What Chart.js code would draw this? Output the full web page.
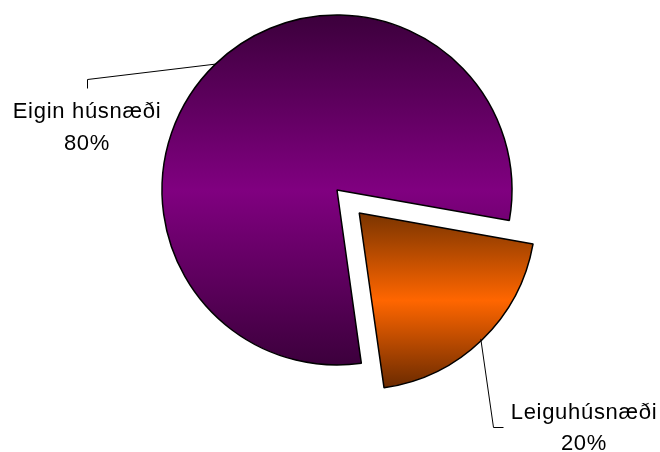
<!DOCTYPE html>
<html>
<head>
<meta charset="utf-8">
<script src="https://cdn.jsdelivr.net/npm/chart.js@4.4.1/dist/chart.umd.min.js"></script>
<style>
  body { margin: 0; background: #fff; }
  #wrap { width: 660px; height: 452px; position: relative; }
</style>
</head>
<body>
<div id="wrap"><canvas id="pieChart"></canvas></div>
<script>
// data
const categories = ['Leiguhúsnæði', 'Eigin húsnæði'];
const shares = [20, 80];
const pctLabels = ['20%', '80%'];

// gradient stops per slice: edge, middle, edge
const sliceColors = [
    ['#7a3400', '#ff6600', '#6a2a00'],
    ['#3c003c', '#800080', '#3c003c']
];

const RADIUS = 175;

function sliceFill(ctx) {
    var chart = ctx.chart;
    var area = chart.chartArea;
    var cols = sliceColors[ctx.dataIndex];
    if (!area) return cols[1];
    var cy = (area.top + area.bottom) / 2;
    var g;
    if (ctx.dataIndex === 0) {
        g = chart.ctx.createLinearGradient(0, cy, 0, cy + RADIUS);
    } else {
        g = chart.ctx.createLinearGradient(0, cy - RADIUS, 0, cy + RADIUS);
    }
    g.addColorStop(0, cols[0]);
    g.addColorStop(0.5, cols[1]);
    g.addColorStop(1, cols[2]);
    return g;
}

// label text position and leader-line elbow for each slice
const labelSpots = [
    { x: 584, y1: 419, y2: 450, elbow: [[493, 427], [503, 427]] },
    { x: 87, y1: 118, y2: 150, elbow: [[87, 79], [87, 88]] }
];

const pieLabels = {
    id: 'pieLabels',
    afterDatasetsDraw: function(chart) {
        var c = chart.ctx;
        var meta = chart.getDatasetMeta(0);
        meta.data.forEach(function(arc, i) {
            var p = arc.getProps(['x', 'y', 'startAngle', 'endAngle', 'outerRadius']);
            var mid = (p.startAngle + p.endAngle) / 2;
            var shift = (arc.options.offset || 0) / 4;
            var rx = p.x + Math.cos(mid) * (p.outerRadius + shift);
            var ry = p.y + Math.sin(mid) * (p.outerRadius + shift);
            var spot = labelSpots[i];

            c.save();
            c.strokeStyle = '#000';
            c.lineWidth = 1;
            c.beginPath();
            c.moveTo(rx, ry);
            spot.elbow.forEach(function(pt) { c.lineTo(pt[0] + 0.5, pt[1] + 0.5); });
            c.stroke();

            c.fillStyle = '#000';
            c.font = '22px "Liberation Sans", Arial, sans-serif';
            c.textAlign = 'center';
            c.textBaseline = 'alphabetic';
            c.letterSpacing = '0.7px';
            c.fillText(categories[i], spot.x, spot.y1);
            c.fillText(pctLabels[i], spot.x, spot.y2);
            c.restore();
        });
    }
};

var ctx = document.getElementById('pieChart').getContext('2d');
var pieChart = new Chart(ctx, {
    type: 'pie',
    data: {
        labels: categories,
        datasets: [{
            data: shares,
            backgroundColor: sliceFill,
            borderColor: '#000',
            borderWidth: 1.5,
            offset: [128, 0],
            radius: RADIUS
        }]
    },
    options: {
        responsive: true,
        maintainAspectRatio: false,
        animation: false,
        rotation: 100,
        layout: { padding: { left: 14, right: 0, top: 0, bottom: 72 } },
        events: [],
        plugins: {
            legend: { display: false },
            tooltip: { enabled: false }
        }
    },
    plugins: [pieLabels]
});
</script>
</body>
</html>
